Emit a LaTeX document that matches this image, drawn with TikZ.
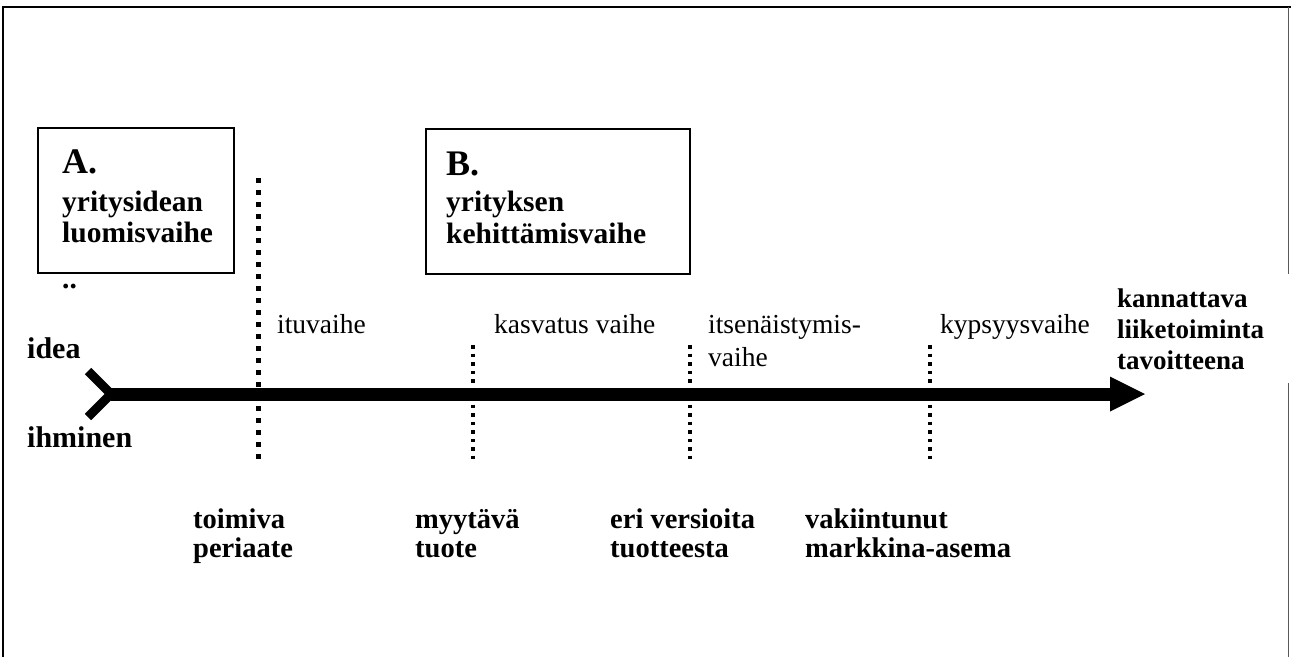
\documentclass[tikz,border=0pt]{standalone}
\usepackage{fontspec}
\setmainfont{Liberation Serif}
\begin{document}
\begin{tikzpicture}[x=1pt,y=-1pt,
  txt/.style={anchor=base west,inner sep=0pt,font=\fontsize{27.5}{30}\selectfont},
  btxt/.style={anchor=base west,inner sep=0pt,font=\fontsize{27}{30}\selectfont\bfseries},
  boxtxt/.style={anchor=base west,inner sep=0pt,font=\fontsize{29.5}{31}\selectfont\bfseries},
  sidetxt/.style={anchor=base west,inner sep=0pt,font=\fontsize{30}{31}\selectfont\bfseries},
  bottxt/.style={anchor=base west,inner sep=0pt,font=\fontsize{28.5}{30}\selectfont\bfseries},
  bigtxt/.style={anchor=base west,inner sep=0pt,font=\fontsize{36}{40}\selectfont\bfseries},
  phasebox/.style={draw,line width=2pt,inner sep=0pt},
  bigdots/.style={line width=5pt,dash pattern=on 5pt off 7pt},
  smalldots/.style={line width=3.5pt,dash pattern=on 3.5pt off 5pt},
  shaft/.style={line width=13pt},
  tail/.style={line width=9pt,miter limit=10}]
\useasboundingbox (0,0) rectangle (1291,657);

% frame
\draw[line width=2.5pt] (2,7) -- (1291,7);
\draw[line width=2pt] (3,6) -- (3,657);
\draw[gray!70!black,line width=1pt] (1288,7) -- (1288,274);
\draw[gray!70!black,line width=1pt] (1288,383) -- (1288,657);

% phase boxes
\node[phasebox,minimum width=196pt,minimum height=145pt] (boxA) at (136,200.5) {};
\node[phasebox,minimum width=264pt,minimum height=145pt] (boxB) at (558,201.5) {};
\node[bigtxt] (a1) at (62,173) {A.};
\node[boxtxt] (a2) at (62,211) {yritysidean};
\node[boxtxt] (a3) at (62,242) {luomisvaihe};
\node[boxtxt] (a4) at (62,288) {..};
\node[bigtxt] (b1) at (446,175) {B.};
\node[boxtxt] (b2) at (446,211) {yrityksen};
\node[boxtxt] (b3) at (446,243) {kehittämisvaihe};

% milestones
\coordinate (m1t) at (258,178); \coordinate (m1b) at (258,460);
\coordinate (m2t) at (473,345); \coordinate (m2b) at (473,462);
\coordinate (m3t) at (690,345); \coordinate (m3b) at (690,462);
\coordinate (m4t) at (930,345); \coordinate (m4b) at (930,462);
\draw[bigdots] (m1t) -- (m1b);
\draw[smalldots] (m2t) -- (m2b);
\draw[smalldots] (m3t) -- (m3b);
\draw[smalldots] (m4t) -- (m4b);

% main arrow
\coordinate (start) at (111,394);
\coordinate (headbase) at (1110,394);
\coordinate (tip) at (1145,394);
\draw[tail] (88,371) -- (start) -- (88,417);
\draw[shaft] (start) -- (headbase);
\fill (1110,376.5) -- (tip) -- (1110,411.5) -- cycle;

% left labels
\node[sidetxt] (idea) at (27,358) {idea};
\node[sidetxt] (ihm) at (27,447) {ihminen};

% phase names
\node[txt] (p1) at (277,333) {ituvaihe};
\node[txt] (p2) at (494,333) {kasvatus vaihe};
\node[txt] (p3a) at (708,333) {itsenäistymis-};
\node[txt] (p3b) at (708,366) {vaihe};
\node[txt] (p4) at (940,333) {kypsyysvaihe};

% goal
\node[btxt] (g1) at (1117,307) {kannattava};
\node[btxt] (g2) at (1117,338) {liiketoiminta};
\node[btxt] (g3) at (1117,369) {tavoitteena};

% milestone results
\node[bottxt] (r1a) at (193,528) {toimiva};
\node[bottxt] (r1b) at (193,557) {periaate};
\node[bottxt] (r2a) at (415,528) {myytävä};
\node[bottxt] (r2b) at (415,557) {tuote};
\node[bottxt] (r3a) at (610,528) {eri versioita};
\node[bottxt] (r3b) at (610,557) {tuotteesta};
\node[bottxt] (r4a) at (805,528) {vakiintunut};
\node[bottxt] (r4b) at (805,557) {markkina-asema};
\end{tikzpicture}
\end{document}
